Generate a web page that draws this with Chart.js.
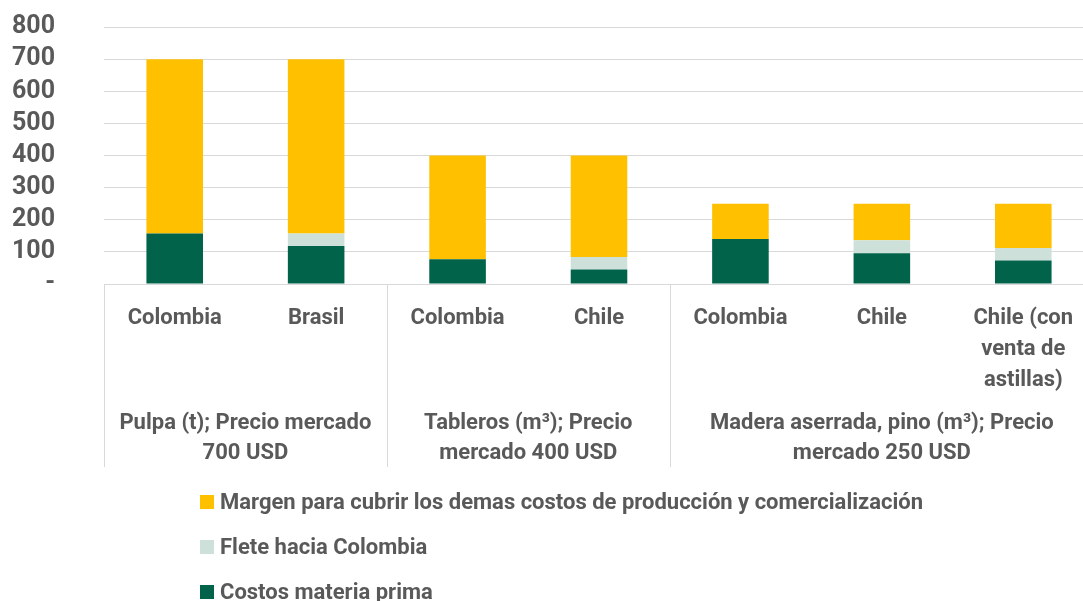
<!DOCTYPE html>
<html>
<head>
<meta charset="utf-8">
<script src="https://cdn.jsdelivr.net/npm/chart.js@4/dist/chart.umd.min.js"></script>
<style>
html,body{margin:0;padding:0;background:#fff;overflow:hidden;}
#wrap{width:1100px;height:601px;}
</style>
</head>
<body>
<div id="wrap"><canvas id="c" width="1100" height="601"></canvas></div>
<script>
const categories = [['Colombia'], ['Brasil'], ['Colombia'], ['Chile'], ['Colombia'], ['Chile'], ['Chile (con', 'venta de', 'astillas)']];
const groupLabels = [['Pulpa (t); Precio mercado', '700 USD'], ['Tableros (m³); Precio', 'mercado 400 USD'], ['Madera aserrada, pino (m³); Precio', 'mercado 250 USD']];
const groupSizes = [2, 2, 3];
const costosMateriaPrima = [157, 118, 77, 45, 140, 96, 73];
const fleteHaciaColombia = [0, 39, 0, 39, 0, 40, 39];
const margen = [543, 543, 323, 316, 110, 114, 138];
const yTickValues = [0, 100, 200, 300, 400, 500, 600, 700, 800];
const seriesNames = ['Costos materia prima', 'Flete hacia Colombia', 'Margen para cubrir los demas costos de producción y comercialización'];
const seriesColors = ['#00634A', '#CDE0D9', '#FFC000'];

const FONT = 'Roboto, "Open Sans", sans-serif';
const TXT = '#595959';

const groupPlugin = {
  id: 'groups',
  afterDraw(chart) {
    const ctx = chart.ctx;
    const xs = chart.scales.x;
    const top = chart.chartArea.bottom;
    ctx.save();
    ctx.strokeStyle = '#d9d9d9';
    ctx.lineWidth = 1;
    let idx = 0;
    const bounds = [chart.chartArea.left];
    groupSizes.forEach((n) => {
      idx += n;
      if (idx < categories.length) {
        bounds.push((xs.getPixelForValue(idx - 1) + xs.getPixelForValue(idx)) / 2);
      }
    });
    bounds.forEach(b => {
      const x = Math.round(b) + 0.5;
      ctx.beginPath();
      ctx.moveTo(x, top);
      ctx.lineTo(x, top + 183);
      ctx.stroke();
    });
    ctx.fillStyle = TXT;
    ctx.font = 'bold 22px ' + FONT;
    ctx.textAlign = 'center';
    ctx.textBaseline = 'middle';
    idx = 0;
    groupSizes.forEach((n, g) => {
      const first = xs.getPixelForValue(idx);
      const last = xs.getPixelForValue(idx + n - 1);
      const cx = (first + last) / 2;
      groupLabels[g].forEach((line, i) => {
        ctx.fillText(line, cx, top + 139 + i * 30);
      });
      idx += n;
    });
    ctx.textAlign = 'left';
    ctx.font = 'bold 22px ' + FONT;
    const ds = chart.data.datasets;
    for (let i = ds.length - 1, r = 0; i >= 0; i--, r++) {
      const y = 502 + r * 45;
      ctx.fillStyle = ds[i].backgroundColor;
      ctx.fillRect(200, y - 7, 14, 14);
      ctx.fillStyle = TXT;
      ctx.fillText(ds[i].label, 220, y + 1);
    }
    ctx.restore();
  }
};

new Chart(document.getElementById('c'), {
  type: 'bar',
  data: {
    labels: categories,
    datasets: [
      { label: seriesNames[0], data: costosMateriaPrima, backgroundColor: seriesColors[0] },
      { label: seriesNames[1], data: fleteHaciaColombia, backgroundColor: seriesColors[1] },
      { label: seriesNames[2], data: margen, backgroundColor: seriesColors[2] }
    ]
  },
  options: {
    responsive: false,
    animation: false,
    layout: { padding: { top: 27, bottom: 131, left: 0, right: 6 } },
    plugins: { legend: { display: false }, tooltip: { enabled: false } },
    datasets: { bar: { barPercentage: 0.4, categoryPercentage: 1.0 } },
    scales: {
      x: {
        stacked: true,
        grid: { display: false },
        border: { display: true, color: '#d9d9d9' },
        ticks: { color: TXT, font: { family: FONT, size: 22, weight: 'bold', lineHeight: 1.4 }, padding: 11, maxRotation: 0, autoSkip: false },
        afterFit(s) { s.height = 186; }
      },
      y: {
        stacked: true,
        min: 0, max: 800,
        afterBuildTicks(s) { s.ticks = yTickValues.map(v => ({ value: v })); },
        grid: { color: '#d9d9d9', drawTicks: true, tickLength: 44, tickColor: 'rgba(0,0,0,0)' },
        border: { display: false },
        ticks: { color: TXT, font: { family: FONT, size: 25, weight: 'bold' }, padding: 5, autoSkip: false, callback: v => v === 0 ? '-' : v },
        afterFit(s) { s.width = 104; }
      }
    }
  },
  plugins: [groupPlugin]
});
</script>
</body>
</html>
